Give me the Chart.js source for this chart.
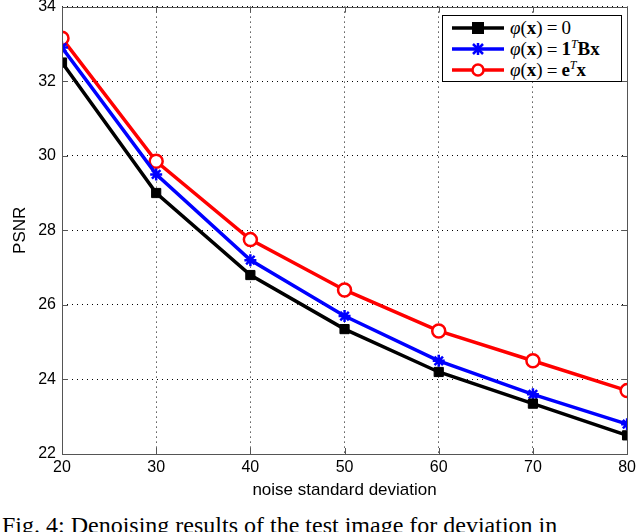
<!DOCTYPE html>
<html>
<head>
<meta charset="utf-8">
<script src="https://cdn.jsdelivr.net/npm/chart.js@4"></script>
<style>
  html, body { margin: 0; padding: 0; background: #fff; overflow: hidden; }
  #wrap { position: relative; width: 640px; height: 532px; overflow: hidden; }
  #chart { position: absolute; left: 0; top: -9px; }
  #legend {
    position: absolute; left: 442px; top: 15px; width: 180px; height: 67px;
    border: 1px solid #000; background: #fff; box-sizing: border-box;
    font-family: "Liberation Serif", "DejaVu Serif", serif; font-size: 19px; color: #000;
  }
  .row { position: absolute; left: 9px; height: 20px; display: flex; align-items: center; white-space: nowrap; }
  .row svg { margin-right: 6px; }
  .row b { font-weight: bold; }
  .row i { font-style: italic; }
  .eq { margin: 0 4px; }
  #caption {
    position: absolute; left: 2px; top: 512px; white-space: nowrap;
    font-family: "Liberation Serif", "Times New Roman", serif; font-size: 24px; color: #000;
  }
</style>
</head>
<body>
<div id="wrap">
  <canvas id="chart" width="640" height="514"></canvas>
  <div id="legend">
    <div class="row" style="top:2px">
      <svg width="52" height="14"><line x1="0" y1="7" x2="52" y2="7" stroke="#000" stroke-width="3.5"/><rect x="20" y="1" width="12" height="12" fill="#000"/></svg>
      <span><i>φ</i>(<b>x</b>)<span class="eq">=</span>0</span>
    </div>
    <div class="row" style="top:23px">
      <svg width="52" height="14"><line x1="0" y1="7" x2="52" y2="7" stroke="#0000ff" stroke-width="3.5"/><path d="M21 2 L31 12 M31 2 L21 12 M26 1 L26 13" stroke="#0000ff" stroke-width="2.5"/></svg>
      <span><i>φ</i>(<b>x</b>)<span class="eq">=</span><b>1</b><sup style="font-size:12px"><i>T</i></sup><b>Bx</b></span>
    </div>
    <div class="row" style="top:44px">
      <svg width="52" height="14"><line x1="0" y1="7" x2="52" y2="7" stroke="#ff0000" stroke-width="3.5"/><circle cx="26" cy="7" r="5.5" fill="#fff" stroke="#ff0000" stroke-width="2.5"/></svg>
      <span><i>φ</i>(<b>x</b>)<span class="eq">=</span><b>e</b><sup style="font-size:12px"><i>T</i></sup><b>x</b></span>
    </div>
  </div>
  <div id="caption">Fig. 4: Denoising results of the test image for deviation in</div>
</div>
<script>
// noise standard deviation on x, PSNR on y
const noiseLevels = [20, 30, 40, 50, 60, 70, 80];
const psnrZero = [32.5, 29.0, 26.8, 25.35, 24.2, 23.35, 22.5];
const psnrOneBx = [32.9, 29.5, 27.2, 25.7, 24.5, 23.6, 22.8];
const psnrEx = [33.15, 29.85, 27.75, 26.4, 25.3, 24.5, 23.7];

const toPoints = arr => arr.map((v, i) => ({ x: noiseLevels[i], y: v }));

// solid box around the plot plus small inward tick marks, like MATLAB
const boxPlugin = {
  id: "box",
  afterDraw(chart) {
    const ctx = chart.ctx;
    const a = chart.chartArea;
    const xs = chart.scales.x, ys = chart.scales.y;
    ctx.save();
    ctx.strokeStyle = "#555";
    ctx.lineWidth = 1;
    ctx.beginPath();
    xs.ticks.forEach(t => {
      const px = Math.round(xs.getPixelForValue(t.value)) + 0.5;
      ctx.moveTo(px, a.bottom); ctx.lineTo(px, a.bottom - 6);
      ctx.moveTo(px, a.top); ctx.lineTo(px, a.top + 6);
    });
    ys.ticks.forEach(t => {
      const py = Math.round(ys.getPixelForValue(t.value)) + 0.5;
      ctx.moveTo(a.left, py); ctx.lineTo(a.left + 6, py);
      ctx.moveTo(a.right, py); ctx.lineTo(a.right - 6, py);
    });
    ctx.stroke();
    ctx.strokeRect(Math.round(a.left) + 0.5, Math.round(a.top) + 0.5,
      Math.round(a.right - a.left), Math.round(a.bottom - a.top));
    ctx.restore();
  }
};

new Chart(document.getElementById("chart").getContext("2d"), {
  type: "line",
  data: {
    datasets: [
      {
        label: "zero",
        data: toPoints(psnrZero),
        borderColor: "#000",
        backgroundColor: "#000",
        borderWidth: 3.5,
        pointStyle: "rect",
        pointRadius: 6.5,
        pointBorderWidth: 1
      },
      {
        label: "1TBx",
        data: toPoints(psnrOneBx),
        borderColor: "#0000ff",
        backgroundColor: "#0000ff",
        borderWidth: 3.5,
        pointStyle: "star",
        pointRadius: 6,
        pointBorderWidth: 2.5
      },
      {
        label: "eTx",
        data: toPoints(psnrEx),
        borderColor: "#ff0000",
        backgroundColor: "#fff",
        borderWidth: 3.5,
        pointStyle: "circle",
        pointRadius: 6.5,
        pointBorderWidth: 2.5
      }
    ]
  },
  options: {
    responsive: false,
    animation: false,
    layout: { padding: { top: 7, right: 10, left: 6, bottom: 0 } },
    plugins: {
      legend: { display: false },
      tooltip: { enabled: false }
    },
    scales: {
      x: {
        type: "linear",
        min: 20,
        max: 80,
        ticks: { stepSize: 10, color: "#000", padding: 4, font: { family: "Liberation Sans", size: 16 } },
        grid: { color: "#000", lineWidth: 1, drawTicks: false },
        border: { display: false, dash: [1, 4] },
        title: { display: true, text: "noise standard deviation", color: "#000", padding: { top: 4 }, font: { family: "Liberation Sans", size: 17 } },
        afterFit(scale) { scale.height = 51; }
      },
      y: {
        min: 22,
        max: 34,
        ticks: { stepSize: 2, color: "#000", padding: 6, font: { family: "Liberation Sans", size: 16 } },
        grid: { color: "#000", lineWidth: 1, drawTicks: false },
        border: { display: false, dash: [1, 4] },
        title: { display: true, text: "PSNR", color: "#000", font: { family: "Liberation Sans", size: 17 } },
        afterFit(scale) { scale.width = 56; }
      }
    }
  },
  plugins: [boxPlugin]
});
</script>
</body>
</html>
